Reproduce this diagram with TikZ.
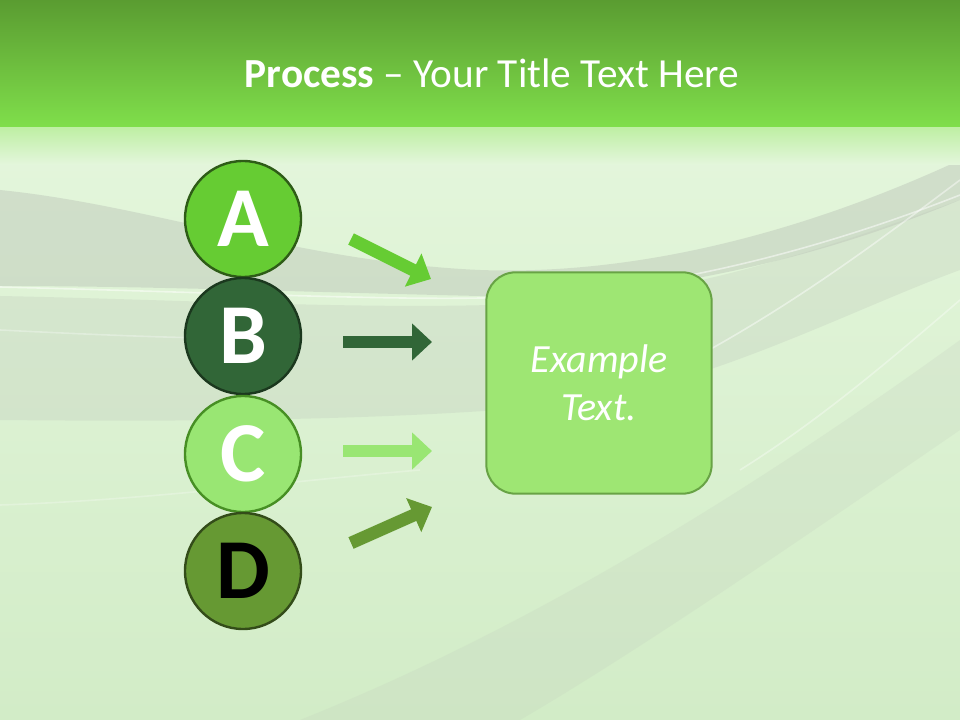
\documentclass[tikz,border=0pt]{standalone}
\usepackage{fontspec}
\setmainfont{Carlito}
\usetikzlibrary{arrows.meta}

\definecolor{headtop}{HTML}{5A9C31}
\definecolor{headbot}{HTML}{80DF4B}
\definecolor{bglight}{HTML}{E4F6DC}
\definecolor{bgbot}{HTML}{D2ECC7}
\definecolor{swoosh}{HTML}{BFC9BB}
\definecolor{colA}{HTML}{66CC33}
\definecolor{colB}{HTML}{316637}
\definecolor{colC}{HTML}{99E673}
\definecolor{colD}{HTML}{669933}
\definecolor{boxfill}{HTML}{9EE673}
\definecolor{boxline}{HTML}{68A345}

\begin{document}
\begin{tikzpicture}[
x = .75pt, y = -.75pt,
letter/.style={circle, inner sep=0pt, minimum size=87pt, line width=1.8pt, font=\fontsize{64}{64}\selectfont\bfseries},
arrowline/.style={line width=9.5pt, -{Triangle[length=15pt, width=27pt]}},
textbox/.style={rounded corners=22pt, fill=boxfill, draw=boxline, line width=1.5pt, minimum width=169pt, minimum height=166pt, align=center, text=white, font=\fontsize{30}{36}\selectfont\itshape},
swooshband/.style={fill=swoosh, opacity=#1},
glint/.style={white, line width=1.2pt, opacity=#1},
]

\useasboundingbox (0,0) rectangle (960,720);

%%%% BACKGROUND

\shade[top color=bglight, bottom color=bgbot] (0,128) rectangle (960,720);
\fill[swooshband=.5] (0,190) .. controls (150,205) and (300,262) .. (480,270) .. controls (650,276) and (820,225) .. (960,160) -- (960,200) .. controls (820,258) and (650,300) .. (480,296) .. controls (300,292) and (150,286) .. (0,286) -- cycle;
\fill[swooshband=.3] (0,296) .. controls (200,300) and (400,312) .. (560,302) .. controls (700,292) and (850,240) .. (960,200) -- (960,270) .. controls (850,310) and (700,390) .. (560,405) .. controls (400,420) and (200,422) .. (0,420) -- cycle;
\fill[swooshband=.2] (300,720) .. controls (550,620) and (780,470) .. (960,340) -- (960,430) .. controls (800,540) and (640,650) .. (520,720) -- cycle;
\draw[glint=.5] (0,287) .. controls (200,292) and (380,300) .. (480,298) .. controls (650,296) and (820,250) .. (960,195);
\draw[glint=.3] (0,330) .. controls (120,336) and (220,340) .. (300,338);
\draw[glint=.45] (700,355) .. controls (800,300) and (880,240) .. (960,180);
\draw[glint=.35] (740,470) .. controls (820,420) and (890,360) .. (960,300);
\draw[glint=.25] (0,505) .. controls (150,500) and (300,480) .. (420,470);

%%%% HEADER

\shade[top color=headtop, bottom color=headbot] (0,0) rectangle (960,128);
\shade[top color=headbot!50!white, bottom color=bglight] (0,128) rectangle (960,165);
\node[anchor=base, text=white, font=\fontsize{31}{37}\selectfont] (title) at (492,88) {\textbf{Process} -- Your Title Text Here};

%%%% LETTERS

\node[letter, fill=colA, draw=colA!45!black, text=white] (A) at (243,219) {A};
\node[letter, fill=colB, draw=colB!55!black, text=white] (B) at (243,336) {B};
\node[letter, fill=colC, draw=colA!70!black, text=white] (C) at (243,454) {C};
\node[letter, fill=colD, draw=colD!50!black, text=black] (D) at (243,571) {D};

%%%% BOX

\node[textbox] (box) at (599,383) {Example\\Text.};

%%%% ARROWS

\path (A)++(108,20)coordinate(A1)++(80,40)coordinate(A2);
\path (B)++(100,6)coordinate(B1)++(89,0)coordinate(B2);
\path (C)++(100,-3)coordinate(C1)++(89,0)coordinate(C2);
\path (D)++(108,-28)coordinate(D1)++(81,-36)coordinate(D2);
\draw[arrowline, colA] (A1)--(A2);
\draw[arrowline, colB] (B1)--(B2);
\draw[arrowline, colC] (C1)--(C2);
\draw[arrowline, colD] (D1)--(D2);

\end{tikzpicture}
\end{document}
